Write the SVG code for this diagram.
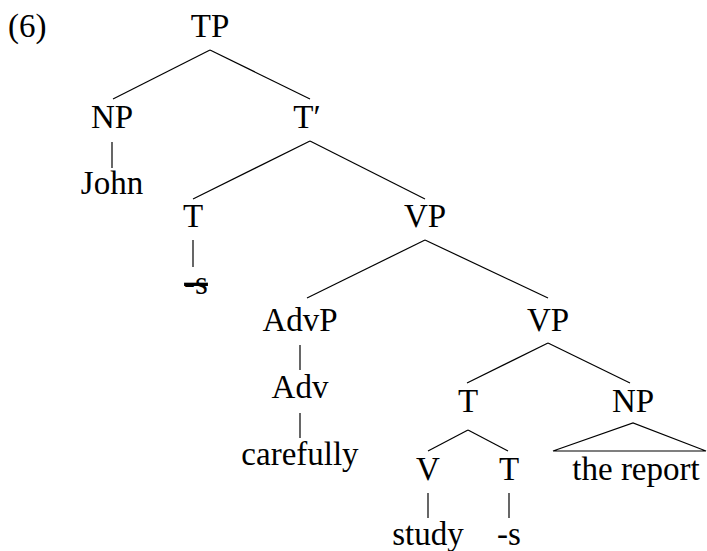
<svg xmlns="http://www.w3.org/2000/svg" width="707" height="551" viewBox="0 0 707 551">
<rect width="707" height="551" fill="#fff"/>
<g id="connectors" stroke="#000" stroke-width="1.2" fill="none">
<line x1="210" y1="50" x2="113" y2="99"/>
<line x1="210" y1="50" x2="310" y2="99"/>
<line x1="112" y1="142" x2="112" y2="168"/>
<line x1="310" y1="141" x2="193" y2="199"/>
<line x1="310" y1="141" x2="425" y2="199"/>
<line x1="193" y1="240" x2="193" y2="267"/>
<line x1="425" y1="240" x2="307" y2="298"/>
<line x1="425" y1="240" x2="548" y2="298"/>
<line x1="300" y1="345" x2="300" y2="370"/>
<line x1="300" y1="413" x2="300" y2="438"/>
<line x1="548" y1="343" x2="467" y2="383"/>
<line x1="548" y1="343" x2="630" y2="383"/>
<line x1="468" y1="430" x2="428" y2="451"/>
<line x1="468" y1="430" x2="508" y2="451"/>
<line x1="428" y1="493" x2="428" y2="518"/>
<line x1="509" y1="493" x2="509" y2="518"/>
<path d="M553 451 L633 423 L706 451 Z"/>
</g>
<text x="8" y="37" font-family="Liberation Serif" font-size="33">(6)</text>
<g id="TP"><text x="210" y="37" font-family="Liberation Serif" font-size="33" text-anchor="middle">TP</text></g>
<g id="NP1"><text x="112" y="128" font-family="Liberation Serif" font-size="33" text-anchor="middle">NP</text></g>
<g id="John"><text x="112" y="194" font-family="Liberation Serif" font-size="33" text-anchor="middle">John</text></g>
<g id="Tbar"><text x="307" y="128" font-family="Liberation Serif" font-size="33" text-anchor="middle">T′</text></g>
<g id="T1"><text x="193" y="227" font-family="Liberation Serif" font-size="33" text-anchor="middle">T</text></g>
<g id="s1"><text x="196" y="294" font-family="Liberation Serif" font-size="33" text-anchor="middle" text-decoration="line-through">-s</text></g>
<g id="VP1"><text x="425" y="227" font-family="Liberation Serif" font-size="33" text-anchor="middle">VP</text></g>
<g id="AdvP"><text x="300" y="331" font-family="Liberation Serif" font-size="33" text-anchor="middle">AdvP</text></g>
<g id="Adv"><text x="300" y="398" font-family="Liberation Serif" font-size="33" text-anchor="middle">Adv</text></g>
<g id="carefully"><text x="300" y="465" font-family="Liberation Serif" font-size="33" text-anchor="middle">carefully</text></g>
<g id="VP2"><text x="548" y="331" font-family="Liberation Serif" font-size="33" text-anchor="middle">VP</text></g>
<g id="T2"><text x="468" y="412" font-family="Liberation Serif" font-size="33" text-anchor="middle">T</text></g>
<g id="NP2"><text x="633" y="412" font-family="Liberation Serif" font-size="33" text-anchor="middle">NP</text></g>
<g id="V"><text x="428" y="480" font-family="Liberation Serif" font-size="33" text-anchor="middle">V</text></g>
<g id="T3"><text x="509" y="480" font-family="Liberation Serif" font-size="33" text-anchor="middle">T</text></g>
<g id="study"><text x="428" y="545" font-family="Liberation Serif" font-size="33" text-anchor="middle">study</text></g>
<g id="s2"><text x="509" y="545" font-family="Liberation Serif" font-size="33" text-anchor="middle">-s</text></g>
<g id="report"><text x="636" y="480" font-family="Liberation Serif" font-size="33" text-anchor="middle">the report</text></g>
</svg>
